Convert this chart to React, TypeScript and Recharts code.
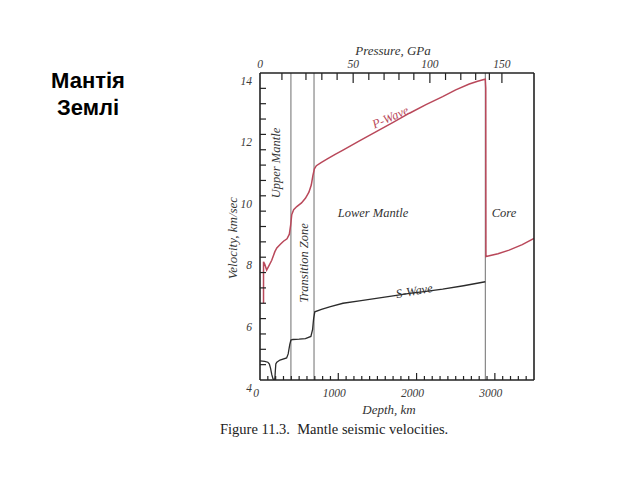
import React from 'react';
import { ComposedChart, Line, XAxis, YAxis, ReferenceLine } from 'recharts';

// P-wave velocity profile (depth km, velocity km/s)
const pWaveDepth = [45, 45, 60, 85, 110, 150, 190, 215, 260, 300, 345, 375, 392, 405, 430, 470, 530, 580, 625, 655, 675, 695, 720, 780, 860, 960, 1060, 1270, 1485, 1700, 1909, 2120, 2333, 2500, 2673, 2780, 2860, 2878, 2884, 2886, 3040, 3182, 3350, 3500];
const pWaveVelocity = [6.5, 7.85, 7.78, 7.58, 7.7, 7.9, 8.18, 8.3, 8.42, 8.52, 8.6, 8.75, 9.05, 9.38, 9.55, 9.65, 9.77, 9.92, 10.12, 10.35, 10.65, 10.88, 10.98, 11.08, 11.2, 11.35, 11.49, 11.79, 12.09, 12.39, 12.69, 12.97, 13.23, 13.45, 13.64, 13.73, 13.79, 13.8, 13.5, 8.02, 8.11, 8.23, 8.41, 8.61];

// S-wave velocity profile
const sWaveDepth = [0, 60, 100, 120, 135, 150, 165, 178, 190, 196, 202, 215, 255, 340, 360, 380, 395, 420, 500, 580, 650, 672, 685, 700, 785, 900, 1060, 1270, 1485, 1700, 1909, 2120, 2333, 2600, 2878];
const sWaveVelocity = [4.62, 4.61, 4.58, 4.52, 4.38, 4.18, 4.04, 4.0, 4.05, 4.3, 4.52, 4.58, 4.65, 4.72, 4.85, 5.15, 5.3, 5.32, 5.33, 5.35, 5.42, 5.65, 6.0, 6.22, 6.3, 6.39, 6.5, 6.58, 6.66, 6.74, 6.82, 6.89, 6.96, 7.07, 7.2];

// Axis ticks
const velocityTicks = [4, 4.5, 5, 5.5, 6, 6.5, 7, 7.5, 8, 8.5, 9, 9.5, 10, 10.5, 11, 11.5, 12, 12.5, 13, 13.5, 14];
const velocityLabels = [4, 6, 8, 10, 12, 14];
const depthTicks = [0, 100, 200, 300, 400, 500, 600, 700, 800, 900, 1000, 1100, 1200, 1300, 1400, 1500, 1600, 1700, 1800, 1900, 2000, 2100, 2200, 2300, 2400, 2500, 2600, 2700, 2800, 2900, 3000, 3100, 3200, 3300, 3400, 3500];
const depthLabels = [0, 1000, 2000, 3000];
const pressureTickDepth = [0, 280, 587, 790, 985, 1190, 1390, 1585, 1775, 1965, 2170, 2370, 2565, 2755, 2930, 3090];
const pressureTickValue = [0, 10, 20, 30, 40, 50, 60, 70, 80, 90, 100, 110, 120, 130, 140, 150];
const pressureLabels = [0, 50, 100, 150];
const boundaryDepths = [395, 690, 2878];

const pData = pWaveDepth.map((d, i) => ({ depth: d, p: pWaveVelocity[i] }));
const sData = sWaveDepth.map((d, i) => ({ depth: d, s: sWaveVelocity[i] }));

const serif = '"Liberation Serif", "DejaVu Serif", serif';
const tickColor = '#3a3a3a';

const BottomTick = (props: any) => {
  const { x, y, payload } = props;
  const v = payload.value;
  const major = v % 1000 === 0;
  const labeled = depthLabels.includes(v);
  return (
    <g>
      {v !== 0 && v !== 3500 && <line x1={x} y1={y} x2={x} y2={y - (major ? 7 : 4)} stroke="#222" strokeWidth={1.2} />}
      {labeled && (
        <text x={x - 4} y={y + 17} textAnchor="middle" fontFamily={serif} fontStyle="italic" fontSize={11.5} fill={tickColor}>
          {v}
        </text>
      )}
    </g>
  );
};

const TopTick = (props: any) => {
  const { x, y, payload } = props;
  const idx = pressureTickDepth.indexOf(payload.value);
  const pv = pressureTickValue[idx];
  const labeled = pressureLabels.includes(pv);
  return (
    <g>
      {pv !== 0 && <line x1={x} y1={y} x2={x} y2={y + (labeled ? 10 : 7)} stroke="#222" strokeWidth={1.2} />}
      {labeled && (
        <text x={x} y={y - 5} textAnchor="middle" fontFamily={serif} fontStyle="italic" fontSize={11.5} fill={tickColor}>
          {pv}
        </text>
      )}
    </g>
  );
};

const LeftTick = (props: any) => {
  const { x, y, payload } = props;
  const v = payload.value;
  const labeled = velocityLabels.includes(v);
  return (
    <g>
      {v !== 4 && v !== 14 && <line x1={x} y1={y} x2={x + 6} y2={y} stroke="#222" strokeWidth={1.2} />}
      {labeled && (
        <text x={x - 8} y={y + 12} textAnchor="end" fontFamily={serif} fontStyle="italic" fontSize={11.5} fill={tickColor}>
          {v}
        </text>
      )}
    </g>
  );
};

export default function App() {
  return (
    <div style={{ position: 'absolute', left: 0, top: 0, width: 640, height: 480, background: '#fff' }}>
      <ComposedChart
        width={640}
        height={480}
        margin={{ top: 53, left: 230, right: 105, bottom: 80 }}
      >
        <XAxis
          xAxisId="bottom"
          type="number"
          dataKey="depth"
          domain={[0, 3500]}
          ticks={depthTicks}
          interval={0}
          tickSize={0}
          tickMargin={0}
          tickLine={false}
          tick={<BottomTick />}
          height={20}
          axisLine={{ stroke: '#222', strokeWidth: 1.6 }}
          allowDataOverflow
        />
        <XAxis
          xAxisId="top"
          orientation="top"
          type="number"
          dataKey="depth"
          domain={[0, 3500]}
          ticks={pressureTickDepth}
          interval={0}
          tickSize={0}
          tickMargin={0}
          tickLine={false}
          tick={<TopTick />}
          height={20}
          axisLine={{ stroke: '#222', strokeWidth: 1.6 }}
          allowDataOverflow
        />
        <YAxis
          yAxisId="left"
          type="number"
          domain={[4, 14]}
          ticks={velocityTicks}
          interval={0}
          tickSize={0}
          tickMargin={0}
          tickLine={false}
          tick={<LeftTick />}
          width={30}
          axisLine={{ stroke: '#222', strokeWidth: 1.6 }}
          allowDataOverflow
        />
        <YAxis
          yAxisId="right"
          orientation="right"
          type="number"
          domain={[4, 14]}
          ticks={[]}
          tick={false}
          tickLine={false}
          width={1}
          axisLine={{ stroke: '#222', strokeWidth: 1.6 }}
        />
        {boundaryDepths.map((d) => (
          <ReferenceLine key={d} x={d} xAxisId="bottom" yAxisId="left" stroke="#6e6e6e" strokeWidth={1} />
        ))}
        <Line
          data={sData}
          dataKey="s"
          xAxisId="bottom"
          yAxisId="left"
          type="linear"
          stroke="#2b2b2b"
          strokeWidth={1.3}
          dot={false}
          isAnimationActive={false}
        />
        <Line
          data={pData}
          dataKey="p"
          xAxisId="bottom"
          yAxisId="left"
          type="linear"
          stroke="#b9485a"
          strokeWidth={1.5}
          dot={false}
          isAnimationActive={false}
        />
      </ComposedChart>
      <svg width={640} height={480} style={{ position: 'absolute', left: 0, top: 0, pointerEvents: 'none' }}>
        <text x={88} y={88} textAnchor="middle" fontFamily='"Liberation Sans", Arial, sans-serif' fontWeight="bold" fontSize={22} fill="#000">Мантія</text>
        <text x={88} y={115} textAnchor="middle" fontFamily='"Liberation Sans", Arial, sans-serif' fontWeight="bold" fontSize={22} fill="#000">Землі</text>
        <text x={393} y={55} textAnchor="middle" fontFamily={serif} fontStyle="italic" fontSize={13} fill="#333">Pressure, GPa</text>
        <text x={389} y={414} textAnchor="middle" fontFamily={serif} fontStyle="italic" fontSize={13} fill="#333">Depth, km</text>
        <text transform="translate(237,238) rotate(-90)" textAnchor="middle" fontFamily={serif} fontStyle="italic" fontSize={13} fill="#333">Velocity, km/sec</text>
        <text transform="translate(280,163) rotate(-90)" textAnchor="middle" fontFamily={serif} fontStyle="italic" fontSize={12.5} fill="#333">Upper Mantle</text>
        <text transform="translate(308,263) rotate(-90)" textAnchor="middle" fontFamily={serif} fontStyle="italic" fontSize={12.5} fill="#333">Transition Zone</text>
        <text x={373} y={217} textAnchor="middle" fontFamily={serif} fontStyle="italic" fontSize={12.5} fill="#333">Lower Mantle</text>
        <text x={504} y={217} textAnchor="middle" fontFamily={serif} fontStyle="italic" fontSize={12.5} fill="#333">Core</text>
        <text transform="translate(392,121) rotate(-24)" textAnchor="middle" fontFamily={serif} fontStyle="italic" fontSize={12.5} fill="#b9485a">P-Wave</text>
        <text transform="translate(415,295) rotate(-10)" textAnchor="middle" fontFamily={serif} fontStyle="italic" fontSize={12.5} fill="#333">S-Wave</text>
        <text x={220} y={434} fontFamily={serif} fontSize={14.5} fill="#222">Figure 11.3.{'\u00A0\u00A0'}Mantle seismic velocities.</text>
      </svg>
    </div>
  );
}
